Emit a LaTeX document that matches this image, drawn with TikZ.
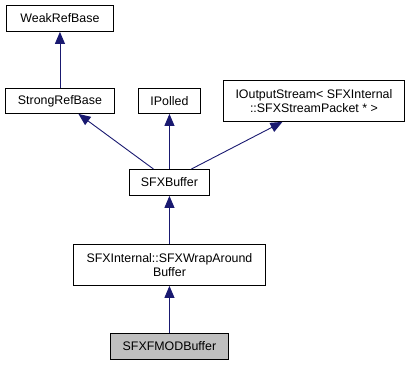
\documentclass[tikz,border=0pt]{standalone}
\usepackage{fontspec}
\setmainfont{Liberation Sans}
\usetikzlibrary{arrows.meta}
\definecolor{edgeblue}{HTML}{191970}
\definecolor{leafgray}{HTML}{BFBFBF}
\begin{document}
\begin{tikzpicture}[x=1pt,y=-1pt,
  cls/.style={draw=black, line width=0.9pt, fill=white, inner sep=0pt,
    font=\fontsize{12.4}{14}\selectfont, align=center, anchor=north west},
  inherit/.style={draw=edgeblue, line width=0.9pt,
    -{Triangle[length=12pt,width=10pt,fill=edgeblue]}}]
  \useasboundingbox (0,0) rectangle (413,365);
  % class boxes, placed by their top-left corners
  \node[cls, minimum width=107pt, minimum height=26pt] (weak) at (6,5) {WeakRefBase};
  \node[cls, minimum width=109pt, minimum height=25pt] (strong) at (5,88) {StrongRefBase};
  \node[cls, minimum width=62pt, minimum height=25pt] (ipolled) at (138,88) {IPolled};
  \node[cls, minimum width=181pt, minimum height=41pt] (ostream) at (223,80)
    {IOutputStream< SFXInternal\\::SFXStreamPacket * >};
  \node[cls, minimum width=80pt, minimum height=26pt] (sfxbuf) at (129,169) {SFXBuffer};
  \node[cls, minimum width=192pt, minimum height=41pt] (wrap) at (73,244)
    {SFXInternal::SFXWrapAround\\Buffer};
  \node[cls, fill=leafgray, minimum width=118pt, minimum height=26pt] (fmod) at (110,333) {SFXFMODBuffer};
  % inheritance edges, child to parent
  \draw[inherit] (strong.north) -- (weak.south);
  \draw[inherit] ([xshift=-16pt]sfxbuf.north) -- ([xshift=18.5pt]strong.south);
  \draw[inherit] (sfxbuf.north) -- (ipolled.south);
  \draw[inherit] ([xshift=22pt]sfxbuf.north) -- ([xshift=-31.5pt]ostream.south);
  \draw[inherit] (wrap.north) -- (sfxbuf.south);
  \draw[inherit] (fmod.north) -- (wrap.south);
\end{tikzpicture}
\end{document}
